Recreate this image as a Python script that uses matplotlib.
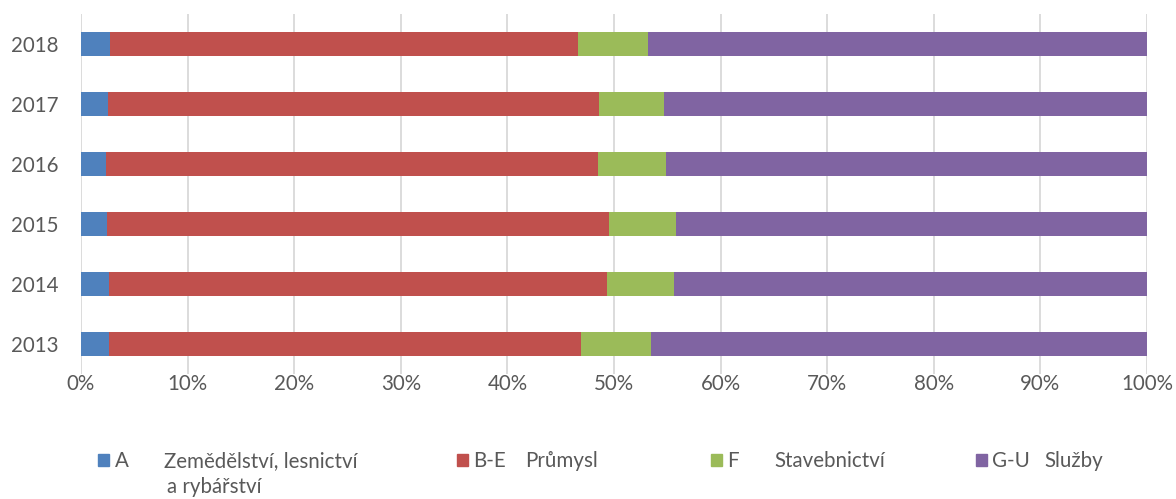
import numpy as np
import matplotlib.pyplot as plt
from matplotlib.patches import Patch

plt.rcParams['font.family'] = ['Lato', 'DejaVu Sans']

# shares of gross value added by sector (%)
years = ['2013', '2014', '2015', '2016', '2017', '2018']
sec_a = [2.6, 2.6, 2.4, 2.3, 2.5, 2.7]
sec_be = [44.3, 46.7, 47.1, 46.2, 46.1, 43.9]
sec_f = [6.6, 6.3, 6.3, 6.4, 6.1, 6.6]
sec_gu = [46.5, 44.4, 44.2, 45.1, 45.3, 46.8]

codes = ['A', 'B-E', 'F', 'G-U']
names = ['Zemědělství, lesnictví', 'Průmysl', 'Stavebnictví', 'Služby']
colors = ['#4F81BD', '#C0504D', '#9BBB59', '#8064A2']
txt = '#595959'
fs = 14.8

fig = plt.figure(figsize=(11.76, 4.99), dpi=100)
ax = fig.add_axes([81/1176, 1 - 374/499, (1147 - 81)/1176, 360/499])

y = np.arange(len(years))
left = np.zeros(len(years))
for vals, c in zip([sec_a, sec_be, sec_f, sec_gu], colors):
    ax.barh(y, vals, left=left, height=0.4, color=c, zorder=3)
    left += np.array(vals)

ax.set_xlim(0, 100)
ax.set_ylim(-0.5, len(years) - 0.5)
ax.set_yticks(y)
ax.set_yticklabels(years)
ax.set_xticks(np.arange(0, 101, 10))
ax.set_xticklabels([f'{v}%' for v in range(0, 101, 10)])
ax.tick_params(axis='both', length=0, labelsize=fs, labelcolor=txt)
ax.tick_params(axis='y', pad=16)
ax.tick_params(axis='x', pad=0)
ax.grid(axis='x', color='#d9d9d9', linewidth=1.3, zorder=0)
for s in ax.spines.values():
    s.set_visible(False)

# legend: one small legend per entry so the spacing matches the original
leg_x = [98, 457, 711, 976]
name_x = [164, 525, 774, 1044]
ly = 1 - 461/499
for i in range(4):
    fig.legend(handles=[Patch(color=colors[i])], labels=[codes[i]],
               loc='center left', bbox_to_anchor=(leg_x[i]/1176, ly),
               frameon=False, fontsize=fs, labelcolor=txt,
               handlelength=0.55, handleheight=0.55, handletextpad=0.25,
               borderpad=0, borderaxespad=0)
    fig.text(name_x[i]/1176, ly, names[i], fontsize=fs, color=txt,
             ha='left', va='center')
fig.text(167/1176, 1 - 487/499, 'a rybářství', fontsize=fs, color=txt,
         ha='left', va='center')

fig.savefig('out.png', dpi=100)
